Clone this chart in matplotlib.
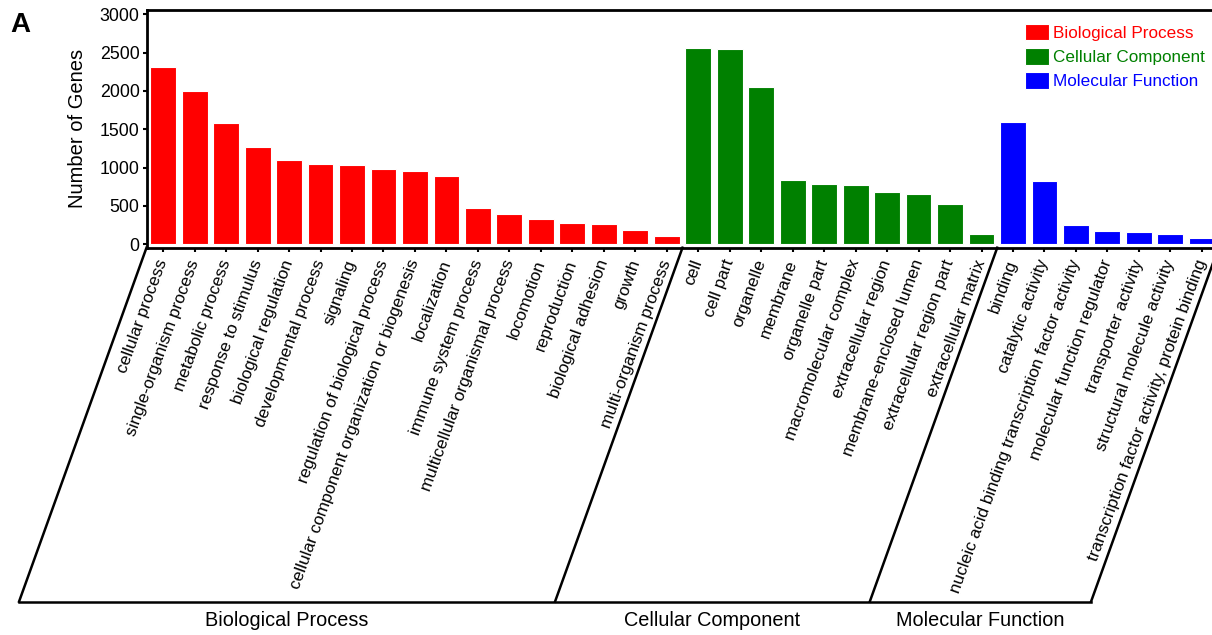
import numpy as np
import matplotlib.pyplot as plt
from matplotlib.transforms import blended_transform_factory

plt.rcParams['font.family'] = ['Liberation Sans', 'DejaVu Sans']

# GO categories and gene counts
bp_terms = ['cellular process', 'single-organism process', 'metabolic process',
            'response to stimulus', 'biological regulation', 'developmental process',
            'signaling', 'regulation of biological process',
            'cellular component organization or biogenesis', 'localization',
            'immune system process', 'multicellular organismal process', 'locomotion',
            'reproduction', 'biological adhesion', 'growth', 'multi-organism process']
bp_counts = [2310, 2000, 1580, 1270, 1105, 1045, 1040, 980, 950, 895,
             470, 400, 325, 280, 260, 190, 105]

cc_terms = ['cell', 'cell part', 'organelle', 'membrane', 'organelle part',
            'macromolecular complex', 'extracellular region', 'membrane-enclosed lumen',
            'extracellular region part', 'extracellular matrix']
cc_counts = [2565, 2545, 2055, 843, 790, 775, 687, 660, 525, 140]

mf_terms = ['binding', 'catalytic activity',
            'nucleic acid binding transcription factor activity',
            'molecular function regulator', 'transporter activity',
            'structural molecule activity',
            'transcription factor activity, protein binding']
mf_counts = [1600, 825, 250, 170, 160, 130, 80]

groups = ['Biological Process', 'Cellular Component', 'Molecular Function']
colors = ['#FF0000', '#008000', '#0000FF']

fig = plt.figure(figsize=(12.12, 6.35), dpi=100)
ax = fig.add_axes([146.5 / 1212, (635 - 247.7) / 635, (1218.5 - 146.5) / 1212, 237.7 / 635])

all_terms = bp_terms + cc_terms + mf_terms
start = 0
bars = []
for terms, counts, col, name in zip([bp_terms, cc_terms, mf_terms],
                                    [bp_counts, cc_counts, mf_counts], colors, groups):
    x = np.arange(start, start + len(terms))
    b = ax.bar(x, counts, width=0.82, color=col, edgecolor='white', linewidth=0.8, label=name)
    bars.append(b)
    start += len(terms)

xl, xr = -0.53, len(all_terms) - 0.47
ax.set_xlim(xl, xr)
ax.set_ylim(-45, 3056)
ax.set_yticks([0, 500, 1000, 1500, 2000, 2500, 3000])
ax.set_xticks(np.arange(len(all_terms)))
ax.set_xticklabels(all_terms, rotation=70, ha='right', va='center',
                   rotation_mode='anchor', fontsize=12.3)
ax.tick_params(axis='x', length=3, width=1.5, pad=6)
ax.tick_params(axis='y', length=3, width=1.5, pad=2, labelsize=12.8)
for s in ax.spines.values():
    s.set_linewidth(2)
ax.set_ylabel('Number of Genes', fontsize=14.5, labelpad=9)

# slanted group frame under the axis
tr = blended_transform_factory(ax.transData, ax.transAxes)
shift = 4.05
ybot = -1.489
n_bp, n_cc = len(bp_terms), len(cc_terms)
edges = [xl, n_bp - 0.5, n_bp + n_cc - 0.5, xr]
for e in edges:
    ax.plot([e, e - shift], [0, ybot], color='black', lw=1.8, transform=tr, clip_on=False)
ax.plot([xl - shift, xr - shift], [ybot, ybot], color='black', lw=1.8,
        transform=tr, clip_on=False)
for i, name in enumerate(groups):
    xc = (edges[i] + edges[i + 1]) / 2 - shift
    ax.text(xc, -1.570, name, transform=tr, ha='center', va='center', fontsize=14.3)

leg = ax.legend(handles=bars, loc='upper left', bbox_to_anchor=(1025 / 1212, 1 - 24 / 635),
                bbox_transform=fig.transFigure, frameon=False, fontsize=12.3,
                handlelength=1.4, handleheight=1.1, handletextpad=0.25,
                labelspacing=0.42, borderpad=0, borderaxespad=0, labelcolor=colors)
for h in leg.legend_handles:
    h.set_edgecolor('white')

fig.text(10 / 1212, 1 - 25 / 635, 'A', fontsize=20, fontweight='bold', va='center', ha='left')

fig.savefig('out.png', dpi=100)
